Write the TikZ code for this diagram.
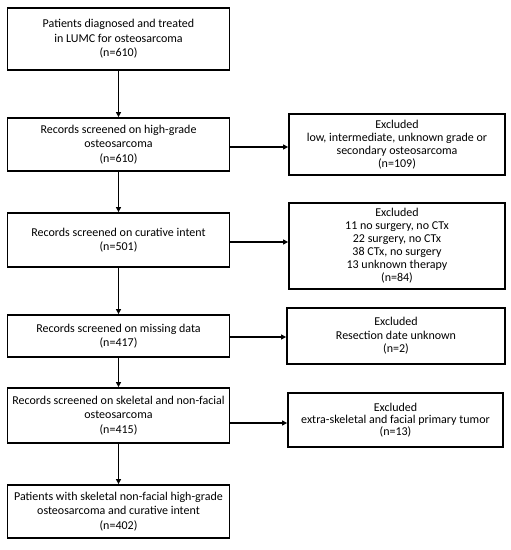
\documentclass[tikz,border=0pt]{standalone}
\usepackage{fontspec}
\setmainfont{Carlito}
\usetikzlibrary{arrows.meta}
\begin{document}
\begin{tikzpicture}[x=1pt,y=-1pt,
  box/.style={draw=black, line width=1.8pt, align=center, inner sep=0pt,
    font=\fontsize{12}{14.5}\selectfont},
  arr/.style={draw=black, line width=1.3pt, -{Triangle[length=5pt,width=5pt]}}]
\useasboundingbox[fill=white] (0,0) rectangle (511,550);
\node[box, minimum width=222pt, minimum height=62pt] (b1) at (118.5,39)
  {Patients diagnosed and treated\\in LUMC for osteosarcoma\\(n=610)};
\node[box, minimum width=222pt, minimum height=53pt] (b2) at (118.5,144.5)
  {Records screened on high-grade\\osteosarcoma\\(n=610)};
\node[box, minimum width=222pt, minimum height=54pt] (b3) at (118.5,240)
  {Records screened on curative intent\\(n=501)};
\node[box, minimum width=222pt, minimum height=42pt] (b4) at (118.5,336)
  {Records screened on missing data\\(n=417)};
\node[box, minimum width=222pt, minimum height=55pt] (b5) at (118.5,415.5)
  {Records screened on skeletal and non-facial\\osteosarcoma\\(n=415)};
\node[box, minimum width=222pt, minimum height=53pt] (b6) at (118.5,511.5)
  {Patients with skeletal non-facial high-grade\\osteosarcoma and curative intent\\(n=402)};
\node[box, minimum width=216pt, minimum height=61pt, font=\fontsize{12}{13.2}\selectfont] (r1) at (397,144.5)
  {Excluded\\low, intermediate, unknown grade or\\secondary osteosarcoma\\(n=109)};
\node[box, minimum width=216pt, minimum height=86pt, font=\fontsize{12}{13}\selectfont] (r2) at (397,246)
  {Excluded\\11 no surgery, no CTx\\22 surgery, no CTx\\38 CTx, no surgery\\13 unknown therapy\\(n=84)};
\node[box, minimum width=218pt, minimum height=56pt, font=\fontsize{12}{13.5}\selectfont] (r3) at (396,336)
  {Excluded\\Resection date unknown\\(n=2)};
\node[box, minimum width=215pt, minimum height=54pt, font=\fontsize{12}{12}\selectfont] (r4) at (395.5,420)
  {Excluded\\extra-skeletal and facial primary tumor\\(n=13)};
\draw[arr] (b1) -- (b2);
\draw[arr] (b2) -- (b3);
\draw[arr] (b3) -- (b4);
\draw[arr] (b4) -- (b5);
\draw[arr] (b5) -- (b6);
\draw[arr] ([yshift=-2.5pt]b2.east) -- ([yshift=-2.5pt]b2.east -| r1.west);
\draw[arr] ([yshift=-2pt]b3.east) -- ([yshift=-2pt]b3.east -| r2.west);
\draw[arr] ([yshift=-1pt]b4.east) -- ([yshift=-1pt]b4.east -| r3.west);
\draw[arr] ([yshift=-3pt]r4.west -| b5.east) -- ([yshift=-3pt]r4.west);
\end{tikzpicture}
\end{document}
